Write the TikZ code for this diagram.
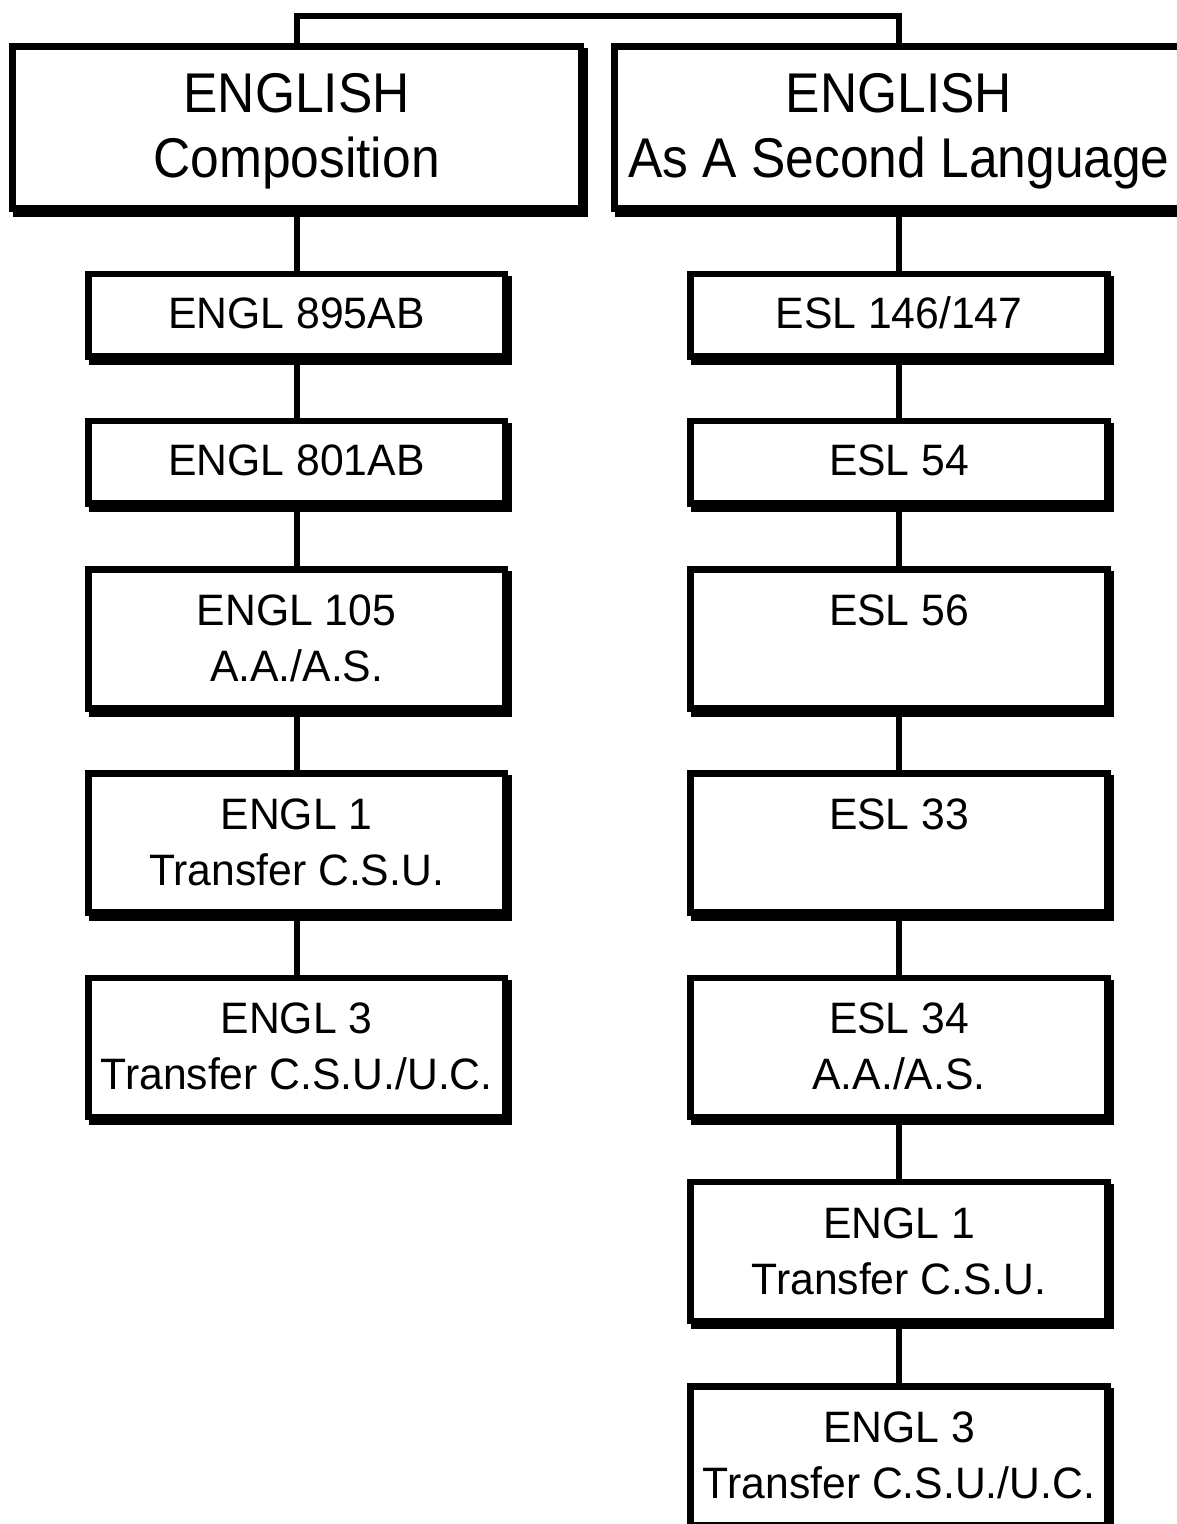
\documentclass[tikz,border=0pt]{standalone}
\usepackage{fontspec}
\setmainfont{Liberation Sans}
\newfontfamily\bigf{Liberation Sans}[FakeStretch=0.92]
\newfontfamily\smallf{Liberation Sans}[FakeStretch=0.97]
\newcommand\twoline[2]{\begin{tabular}[t]{@{}c@{}}#1\\#2\end{tabular}}
\begin{document}
\begin{tikzpicture}[x=1pt,y=-1pt,
  boxbase/.style={draw=black, line width=6.5pt, fill=white, inner sep=0pt, outer sep=3.25pt,
     preaction={draw=black, fill=black, line width=6.5pt, transform canvas={shift={(3.5pt,-5pt)}}}},
  headbox/.style={boxbase, minimum width=568.7pt, minimum height=162pt,
     font=\bigf\fontsize{56}{64.7}\selectfont, text height=40pt, text depth=68.7pt},
  onebox/.style={boxbase, minimum width=416.7pt, minimum height=82.35pt,
     font=\smallf\fontsize{44}{56}\selectfont, text height=31.7pt, text depth=5pt},
  twobox/.style={boxbase, minimum width=416.7pt, minimum height=139pt,
     font=\smallf\fontsize{44}{56}\selectfont, text height=31.7pt, text depth=59pt},
  conn/.style={draw=black, line width=6pt}]
\useasboundingbox (0,0) rectangle (1177,1524);
\clip (0,0) rectangle (1177,1524);
% headings
\node[headbox] (hl) at (296.6,127.25) {\twoline{ENGLISH}{Composition}};
\node[headbox] (hr) at (899,127.25) {\twoline{ENGLISH}{As A Second Language}};
% left column
\node[onebox] (l1) at (296.6,315.1) {ENGL 895AB};
\node[onebox] (l2) at (296.6,462.4) {ENGL 801AB};
\node[twobox] (l3) at (296.6,638.75) {\twoline{ENGL 105}{A.A./A.S.}};
\node[twobox] (l4) at (296.6,843.05) {\twoline{ENGL 1}{Transfer C.S.U.}};
\node[twobox] (l5) at (296.6,1047.35) {\twoline{ENGL 3}{Transfer C.S.U./U.C.}};
% right column
\node[onebox] (e1) at (899,315.1) {ESL 146/147};
\node[onebox] (e2) at (899,462.4) {ESL 54};
\node[twobox] (e3) at (899,638.75) {ESL 56};
\node[twobox] (e4) at (899,843.05) {ESL 33};
\node[twobox] (e5) at (899,1047.35) {\twoline{ESL 34}{A.A./A.S.}};
\node[twobox] (e6) at (899,1251.65) {\twoline{ENGL 1}{Transfer C.S.U.}};
\node[twobox] (e7) at (899,1455.95) {\twoline{ENGL 3}{Transfer C.S.U./U.C.}};
% connectors
\coordinate (topbar) at (600,15.5);
\draw[conn] (hl.north) |- (topbar) -| (hr.north);
\draw[conn] (hl.south) -- (l1.north);
\draw[conn] (l1.south) -- (l2.north);
\draw[conn] (l2.south) -- (l3.north);
\draw[conn] (l3.south) -- (l4.north);
\draw[conn] (l4.south) -- (l5.north);
\draw[conn] (hr.south) -- (e1.north);
\draw[conn] (e1.south) -- (e2.north);
\draw[conn] (e2.south) -- (e3.north);
\draw[conn] (e3.south) -- (e4.north);
\draw[conn] (e4.south) -- (e5.north);
\draw[conn] (e5.south) -- (e6.north);
\draw[conn] (e6.south) -- (e7.north);
\end{tikzpicture}
\end{document}
